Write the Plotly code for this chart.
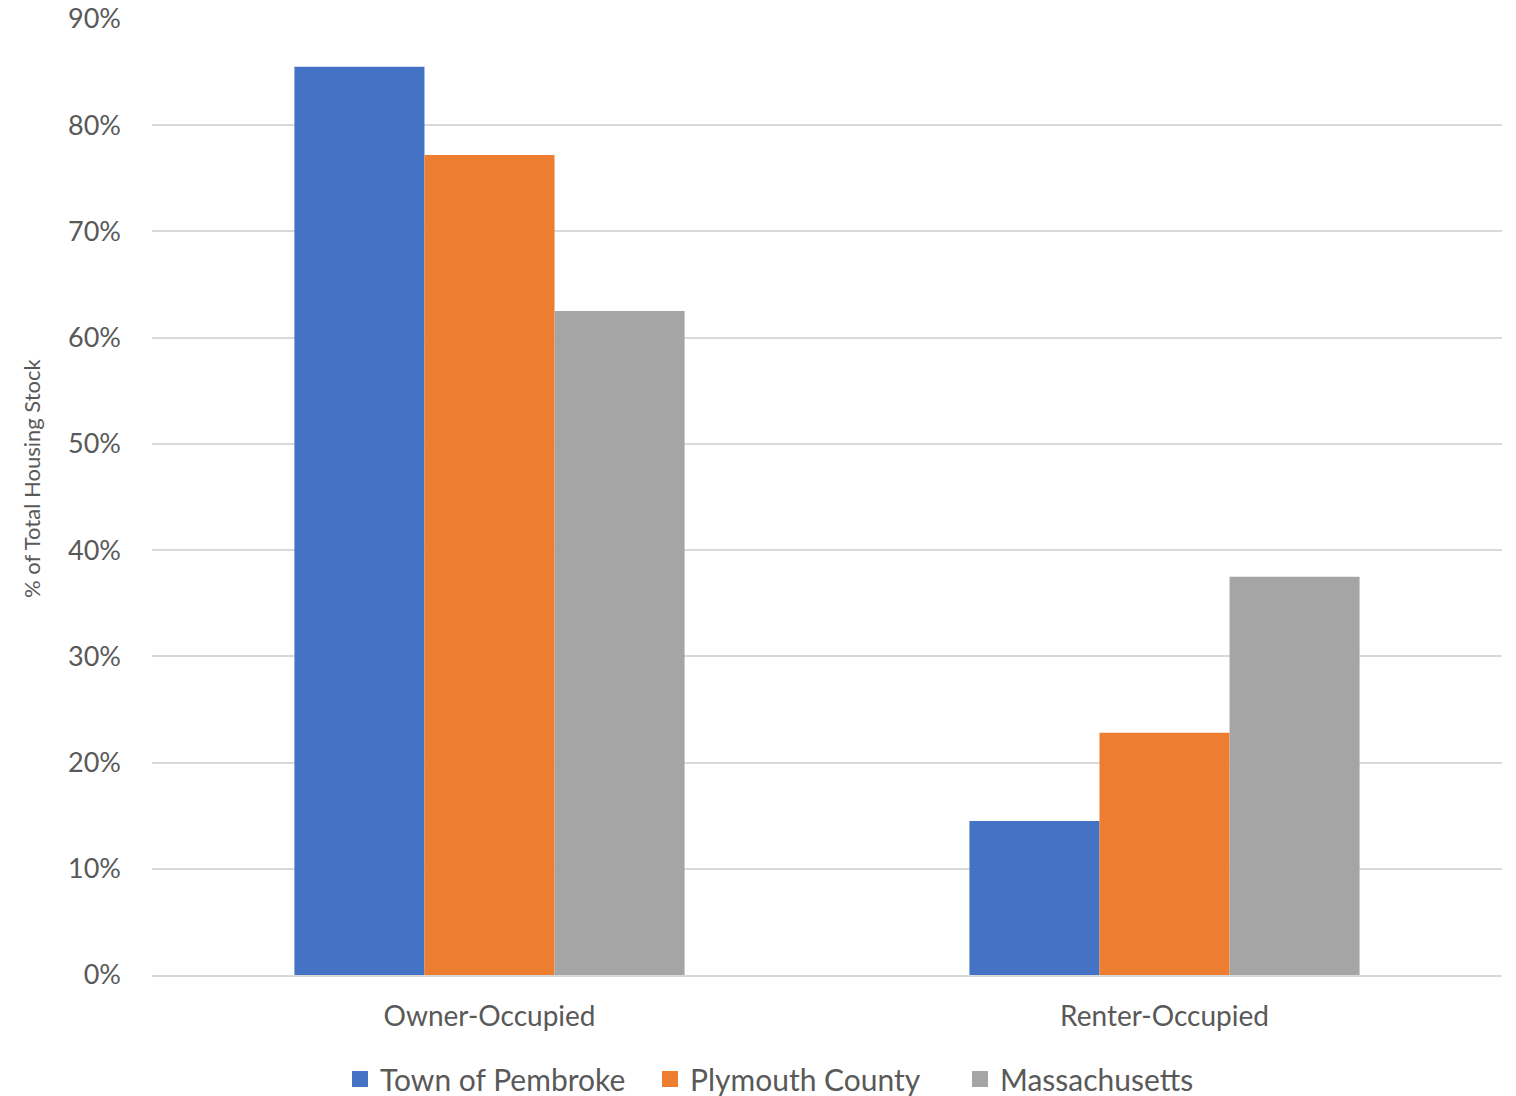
import plotly.graph_objects as go

categories = ["Owner-Occupied", "Renter-Occupied"]
series_names = ["Town of Pembroke", "Plymouth County", "Massachusetts"]
pembroke = [0.855, 0.145]
plymouth = [0.772, 0.228]
massachusetts = [0.625, 0.375]
colors = ["#4472C4", "#ED7D31", "#A5A5A5"]
y_ticks = [0, 0.1, 0.2, 0.3, 0.4, 0.5, 0.6, 0.7, 0.8, 0.9]
y_title = "% of Total Housing Stock"

FONT = "Lato, 'Open Sans', sans-serif"
GREY = "#595959"

fig = go.Figure()
for name, vals, col in zip(series_names, [pembroke, plymouth, massachusetts], colors):
    fig.add_trace(go.Bar(x=categories, y=vals, name=name, showlegend=False,
                         marker=dict(color=col, line=dict(width=0))))
# legend entries with larger square swatches
for name, col in zip(series_names, colors):
    fig.add_trace(go.Scatter(x=[None], y=[None], mode="markers", name=name,
                             marker=dict(symbol="square", size=16, color=col)))

fig.add_annotation(text=y_title, textangle=-90, xref="paper", yref="paper",
                   x=(31 - 152) / 1350, y=(975 - 478) / 956, xanchor="center", yanchor="middle",
                   showarrow=False, font=dict(size=22, color=GREY, family=FONT))

fig.update_layout(
    width=1516, height=1096,
    margin=dict(l=152, r=14, t=19, b=121, autoexpand=False),
    paper_bgcolor="white", plot_bgcolor="white",
    barmode="group", bargap=0.422, bargroupgap=0,
    font=dict(family=FONT, color=GREY, size=26),
    showlegend=True,
    legend=dict(orientation="h", xref="container", yref="container",
                x=805 / 1516, xanchor="center", y=17 / 1096, yanchor="middle",
                font=dict(size=30, color=GREY, family=FONT), itemwidth=30,
                entrywidth=265, entrywidthmode="pixels",
                traceorder="normal", tracegroupgap=0),
    xaxis=dict(showgrid=False, showline=True, linecolor="#D9D9D9", linewidth=2,
               ticks="", tickfont=dict(size=28, color=GREY), ticklabelstandoff=15),
    yaxis=dict(range=[0, 0.9], tickvals=y_ticks, tickformat=".0%", showgrid=True,
               gridcolor="#D9D9D9", gridwidth=2, zeroline=False, showline=False,
               ticks="", tickfont=dict(size=27, color=GREY), ticklabelstandoff=30),
)

fig.write_html("out.html")
